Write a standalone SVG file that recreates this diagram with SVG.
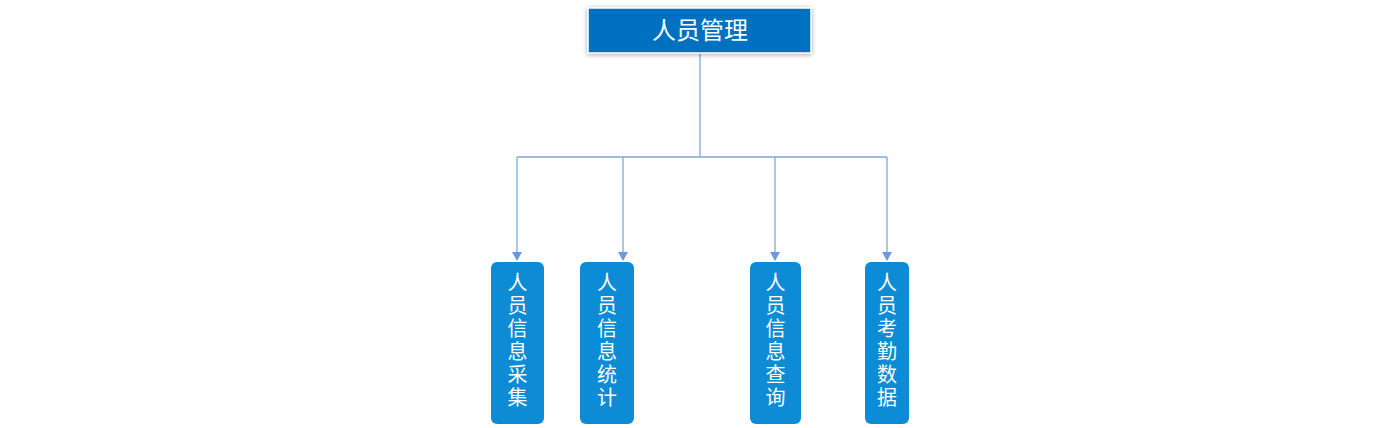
<svg xmlns="http://www.w3.org/2000/svg" width="1387" height="428" viewBox="0 0 1387 428">
<style>
.t{font-family:"Noto Sans CJK SC","Liberation Sans",sans-serif;fill:#ffffff;text-anchor:middle}
.c{fill:none;stroke:#7EA6E0;stroke-width:1.3}
.leaf{fill:#0E8BD5}
</style>
<defs>
<filter id="sh" x="-20%" y="-50%" width="140%" height="200%">
<feDropShadow dx="0" dy="1" stdDeviation="2.5" flood-color="#000" flood-opacity="0.35"/>
</filter>
<marker id="ah" markerWidth="10" markerHeight="10" refX="8" refY="5" orient="auto" markerUnits="userSpaceOnUse">
<path d="M0,0 L9,5 L0,10 Z" fill="#6E97DA"/>
</marker>
</defs>
<rect width="1387" height="428" fill="#ffffff"/>
<g id="connectors">
<path class="c" d="M700,53 V157"/>
<path class="c" d="M517,157 H887"/>
<path class="c" d="M517,157 V260" marker-end="url(#ah)"/>
<path class="c" d="M623,157 V260" marker-end="url(#ah)"/>
<path class="c" d="M775,157 V260" marker-end="url(#ah)"/>
<path class="c" d="M887,157 V260" marker-end="url(#ah)"/>
</g>
<g id="root">
<rect x="588" y="8" width="223" height="45" fill="#0070C0" stroke="#ffffff" stroke-width="1.5" filter="url(#sh)"/>
<text class="t" x="700" y="38.5" font-size="24">人员管理</text>
</g>
<g id="n1">
<rect class="leaf" x="491" y="262" width="53" height="162" rx="6"/>
<text class="t" font-size="20"><tspan x="517.5" y="290">人</tspan><tspan x="517.5" y="313">员</tspan><tspan x="517.5" y="336">信</tspan><tspan x="517.5" y="359">息</tspan><tspan x="517.5" y="382">采</tspan><tspan x="517.5" y="405">集</tspan></text>
</g>
<g id="n2">
<rect class="leaf" x="580" y="262" width="54" height="162" rx="6"/>
<text class="t" font-size="20"><tspan x="607" y="290">人</tspan><tspan x="607" y="313">员</tspan><tspan x="607" y="336">信</tspan><tspan x="607" y="359">息</tspan><tspan x="607" y="382">统</tspan><tspan x="607" y="405">计</tspan></text>
</g>
<g id="n3">
<rect class="leaf" x="750" y="262" width="51" height="162" rx="6"/>
<text class="t" font-size="20"><tspan x="775.5" y="290">人</tspan><tspan x="775.5" y="313">员</tspan><tspan x="775.5" y="336">信</tspan><tspan x="775.5" y="359">息</tspan><tspan x="775.5" y="382">查</tspan><tspan x="775.5" y="405">询</tspan></text>
</g>
<g id="n4">
<rect class="leaf" x="865" y="262" width="44" height="162" rx="6"/>
<text class="t" font-size="20"><tspan x="887" y="290">人</tspan><tspan x="887" y="313">员</tspan><tspan x="887" y="336">考</tspan><tspan x="887" y="359">勤</tspan><tspan x="887" y="382">数</tspan><tspan x="887" y="405">据</tspan></text>
</g>
</svg>
